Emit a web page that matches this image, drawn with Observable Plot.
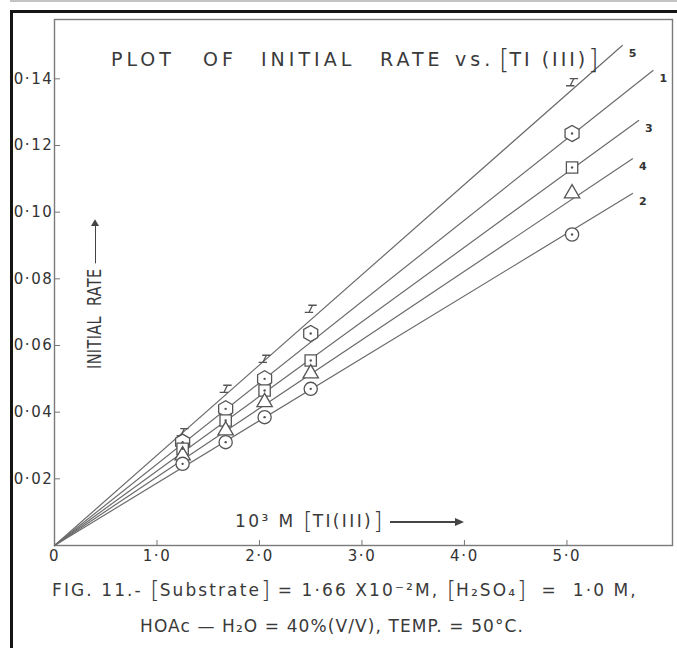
<!DOCTYPE html>
<html><head><meta charset="utf-8">
<script src="https://cdn.jsdelivr.net/npm/d3@7"></script>
<script src="https://cdn.jsdelivr.net/npm/@observablehq/plot@0.6"></script>
<style>
html,body{margin:0;padding:0;background:#fff;}
#wrap{position:relative;width:677px;height:648px;overflow:hidden;background:#fff;font-family:"DejaVu Sans",sans-serif;color:#333;}
#topline{position:absolute;left:0;top:0;width:677px;height:2px;background:#c4c4c4;}
#border{position:absolute;left:10px;top:10px;width:720px;height:720px;border-left:3px solid #151515;border-top:3px solid #151515;z-index:5;pointer-events:none;}
#mask{position:absolute;left:0;top:0;width:10px;height:648px;background:#fff;z-index:4;}
#chart{position:absolute;left:0;top:0;}
.t{position:absolute;white-space:nowrap;color:#3a3a3a;z-index:3;line-height:1.15;}
.bk{font-size:1.4em;line-height:0;font-weight:300;position:relative;top:2px;letter-spacing:0;}
.tw{top:49px;font-size:19px;letter-spacing:4px;}
.arrow{display:inline-block;height:1.5px;background:#444;position:relative;vertical-align:middle;}
.arrow::after{content:"";position:absolute;right:-2px;top:-3.5px;border-left:9px solid #444;border-top:4.2px solid transparent;border-bottom:4.2px solid transparent;}
#xlabel{left:235px;top:512px;font-size:17px;letter-spacing:2.4px;}
#ylabel{left:84px;top:369px;font-size:19px;letter-spacing:0.5px;transform-origin:0 0;transform:rotate(-90deg) scaleX(0.76);}
#cap1{left:52px;top:581px;font-size:17px;letter-spacing:2.1px;}
#cap2{left:140px;top:617px;font-size:17px;letter-spacing:1.1px;}
</style></head><body>
<div id="wrap">
  <div id="topline"></div>
  <div id="mask"></div>
  <div id="border"></div>
  <div id="chart"></div>
  <div class="t tw" style="left:111px">PLOT</div>
  <div class="t tw" style="left:203px">OF</div>
  <div class="t tw" style="left:261px">INITIAL</div>
  <div class="t tw" style="left:380px">RATE</div>
  <div class="t tw" style="left:455px">vs.</div>
  <div class="t tw" style="left:499px;letter-spacing:3px"><span class="bk">[</span>TI (III)<span class="bk">]</span></div>
  <div class="t" id="xlabel">10³ M <span class="bk">[</span>TI(III)<span class="bk">]</span> <span class="arrow" style="width:72px"></span></div>
  <div class="t" id="ylabel">INITIAL&nbsp; RATE <span class="arrow" style="width:56px"></span></div>
  <div class="t" id="cap1">FIG. 11.- <span class="bk">[</span>Substrate<span class="bk">]</span> = 1·66 X10⁻²M, <span class="bk">[</span>H₂SO₄<span class="bk">]</span> &nbsp;= &nbsp;1·0 M,</div>
  <div class="t" id="cap2">HOAc — H₂O = 40%(V/V), TEMP. = 50°C.</div>
</div>
<script>
// ---- data ----
const xPoints = [1.25, 1.67, 2.05, 2.5, 5.05];          // 10^3 M [Tl(III)]
const seriesNames = ["5", "1", "3", "4", "2"];
const rate5 = [0.034, 0.047, 0.056, 0.071, 0.139];
const rate1 = [0.031, 0.041, 0.050, 0.0636, 0.1236];
const rate3 = [0.029, 0.0375, 0.0465, 0.0555, 0.1134];
const rate4 = [0.027, 0.0345, 0.043, 0.0516, 0.1056];
const rate2 = [0.0245, 0.031, 0.0385, 0.047, 0.0933];
const lineEndX = [5.54, 5.84, 5.70, 5.64, 5.64];       // end of each fitted line
const lineEndY = [0.150, 0.1425, 0.1275, 0.116, 0.1056];
const xTicks = [0, 1, 2, 3, 4, 5];
const xTickLabels = ["0", "1·0", "2·0", "3·0", "4·0", "5·0"];
const yTicks = [0.02, 0.04, 0.06, 0.08, 0.10, 0.12, 0.14];
const yTickLabels = ["0·02", "0·04", "0·06", "0·08", "0·10", "0·12", "0·14"];

// ---- build tables ----
const rates = [rate5, rate1, rate3, rate4, rate2];
const points = seriesNames.flatMap((s, i) => xPoints.map((x, j) => ({s, x, y: rates[i][j]})));
const lines = seriesNames.flatMap((s, i) => [{s, x: 0, y: 0}, {s, x: lineEndX[i], y: lineEndY[i]}]);
const ends = seriesNames.map((s, i) => ({s, x: lineEndX[i], y: lineEndY[i]}));

// custom "⌶"-like marker for series 5
const barMark = {
  draw(ctx, size) {
    const r = Math.sqrt(size / Math.PI);
    ctx.moveTo(-0.4 * r, -0.6 * r); ctx.lineTo(1.0 * r, -0.6 * r);
    ctx.moveTo(-1.0 * r, 0.6 * r); ctx.lineTo(0.4 * r, 0.6 * r);
    ctx.moveTo(0.3 * r, -0.6 * r); ctx.lineTo(-0.3 * r, 0.6 * r);
  }
};
const symbolFor = {"5": barMark, "1": "hexagon", "3": "square", "4": "triangle", "2": "circle"};
const rFor = {"5": 6, "1": 7, "3": 6.4, "4": 5.7, "2": 6.6};

const ink = "#555";
const marks = [
  Plot.frame({stroke: "#7a7a7a", strokeWidth: 1.4}),
  Plot.line(lines, {x: "x", y: "y", z: "s", stroke: "#6b6b6b", strokeWidth: 1.2}),
  ...seriesNames.map(s => Plot.dot(points.filter(d => d.s === s), {
    x: "x", y: "y", symbol: () => symbolFor[s], r: rFor[s],
    stroke: ink, strokeWidth: 1.3, fill: s === "5" ? "none" : "white"
  })),
  Plot.dot(points.filter(d => d.s === "1" || d.s === "2" || d.s === "3"), {x: "x", y: "y", r: 1.2, fill: ink}),
  Plot.text(ends, {x: "x", y: "y", text: "s", dx: 11, dy: 8, fontSize: 11, fontWeight: "bold", fill: "#333"}),
  Plot.axisX(xTicks, {tickFormat: d => xTickLabels[xTicks.indexOf(d)], tickSize: -5, tickPadding: 10,
    fontSize: 15, stroke: "#777", fill: "#333", label: null}),
  Plot.axisY(yTicks, {tickFormat: d => yTickLabels[yTicks.indexOf(d)], tickSize: -6, tickPadding: 7,
    fontSize: 15, stroke: "#777", fill: "#333", label: null})
];

const chart = Plot.plot({
  width: 677, height: 565,
  marginTop: 19, marginBottom: 20, marginLeft: 54, marginRight: 5,
  x: {domain: [0, 6.03]},
  y: {domain: [0, 0.1578]},
  style: {fontFamily: "DejaVu Sans, sans-serif", background: "transparent", overflow: "visible", letterSpacing: "1.6px"},
  marks
});
document.getElementById("chart").appendChild(chart);
</script>
</body></html>
